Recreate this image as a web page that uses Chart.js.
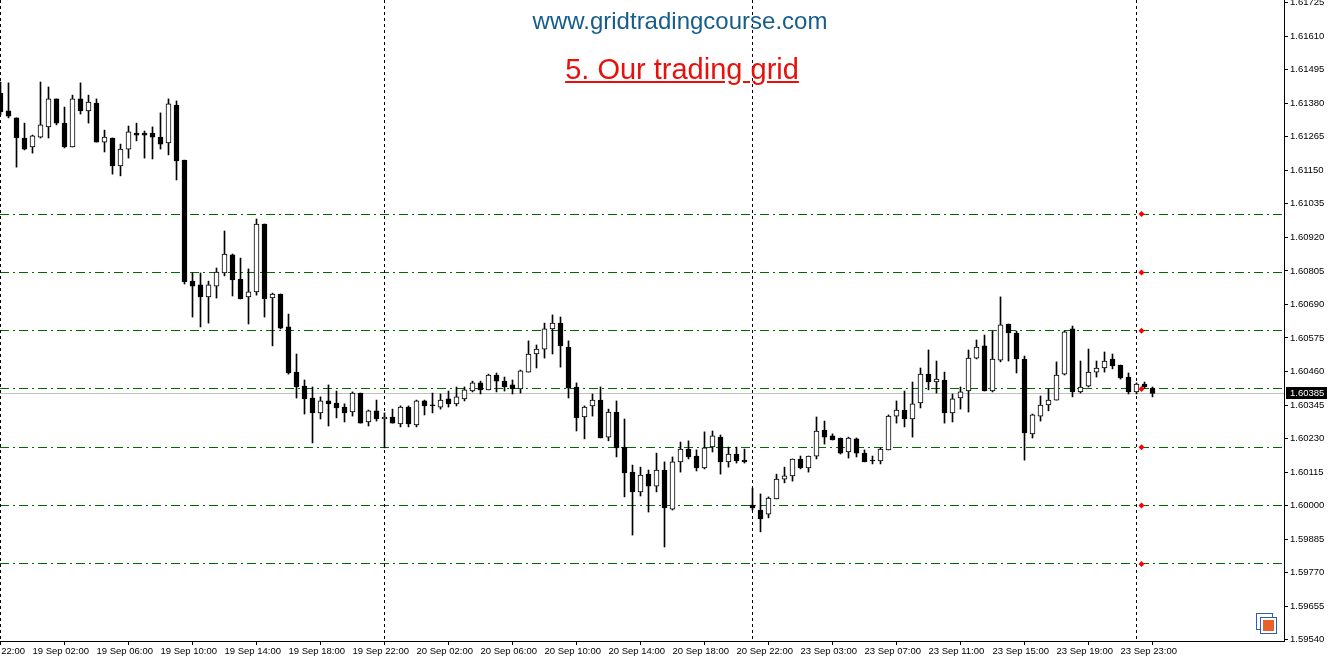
<!DOCTYPE html>
<html>
<head>
<meta charset="utf-8">
<title>GBPUSD M30 - Our trading grid</title>
<script src="https://cdn.jsdelivr.net/npm/chart.js@4.4.0/dist/chart.umd.min.js"></script>
<style>
  html, body { margin: 0; padding: 0; background: #fff; }
  #wrap { position: relative; width: 1328px; height: 660px; overflow: hidden; }
  #chart { position: absolute; left: 0; top: 0; }
  .title { position: absolute; font-family: 'Liberation Sans', Arial, sans-serif; white-space: nowrap; transform: translateX(-50%); line-height: 1; }
  #site { left: 680px; top: 9px; font-size: 24px; color: #155e8c; }
  #heading { left: 682px; top: 55px; font-size: 29px; color: #e8100a; text-decoration: underline; }
</style>
</head>
<body>
<div id="wrap">
  <canvas id="chart" width="1328" height="660"></canvas>
  <div class="title" id="site">www.gridtradingcourse.com</div>
  <div class="title" id="heading">5. Our trading grid</div>
</div>
<script>
// 30 minute candles, 19 Sep 00:00 -> 24 Sep 01:00 (weekend skipped)
const opens = [
  1.61415, 1.61354, 1.61330, 1.61261, 1.61230, 1.61264, 1.61299, 1.61395, 1.61312, 1.61230,
  1.61395, 1.61354, 1.61381, 1.61247, 1.61261, 1.61165, 1.61223, 1.61278, 1.61278, 1.61278,
  1.61264, 1.61244, 1.61374, 1.61185, 1.60770, 1.60757, 1.60716, 1.60753, 1.60798, 1.60860,
  1.60777, 1.60716, 1.60733, 1.60966, 1.60712, 1.60726, 1.60613, 1.60458, 1.60410, 1.60369,
  1.60318, 1.60359, 1.60352, 1.60338, 1.60321, 1.60386, 1.60287, 1.60325, 1.60297, 1.60304,
  1.60280, 1.60338, 1.60277, 1.60359, 1.60345, 1.60338, 1.60366, 1.60349, 1.60366, 1.60393,
  1.60421, 1.60397, 1.60448, 1.60427, 1.60414, 1.60400, 1.60458, 1.60520, 1.60537, 1.60606,
  1.60626, 1.60544, 1.60407, 1.60304, 1.60342, 1.60362, 1.60235, 1.60321, 1.60201, 1.60115,
  1.60047, 1.60108, 1.60067, 1.60122, 1.59988, 1.60150, 1.60194, 1.60170, 1.60129, 1.60201,
  1.60235, 1.60150, 1.60177, 1.60156, 1.60002, 1.59985, 1.59971, 1.60023, 1.60091, 1.60102,
  1.60160, 1.60129, 1.60170, 1.60259, 1.60239, 1.60232, 1.60184, 1.60229, 1.60180, 1.60156,
  1.60153, 1.60191, 1.60307, 1.60328, 1.60297, 1.60352, 1.60451, 1.60424, 1.60431, 1.60318,
  1.60369, 1.60393, 1.60506, 1.60548, 1.60393, 1.60499, 1.60623, 1.60592, 1.60503, 1.60246,
  1.60307, 1.60345, 1.60362, 1.60451, 1.60606, 1.60390, 1.60410, 1.60458, 1.60472, 1.60503,
  1.60482, 1.60441, 1.60390, 1.60417, 1.60403
];
const highs = [
  1.61453, 1.61450, 1.61330, 1.61312, 1.61271, 1.61453, 1.61436, 1.61395, 1.61367, 1.61408,
  1.61450, 1.61408, 1.61395, 1.61288, 1.61261, 1.61240, 1.61302, 1.61312, 1.61285, 1.61299,
  1.61347, 1.61395, 1.61388, 1.61185, 1.60798, 1.60798, 1.60770, 1.60815, 1.60942, 1.60863,
  1.60849, 1.60812, 1.60983, 1.60966, 1.60729, 1.60726, 1.60657, 1.60520, 1.60431, 1.60407,
  1.60373, 1.60414, 1.60393, 1.60349, 1.60390, 1.60386, 1.60328, 1.60362, 1.60318, 1.60331,
  1.60342, 1.60342, 1.60362, 1.60362, 1.60386, 1.60383, 1.60393, 1.60407, 1.60407, 1.60427,
  1.60427, 1.60451, 1.60455, 1.60441, 1.60431, 1.60465, 1.60565, 1.60551, 1.60626, 1.60654,
  1.60647, 1.60565, 1.60421, 1.60342, 1.60383, 1.60407, 1.60331, 1.60359, 1.60297, 1.60139,
  1.60132, 1.60122, 1.60180, 1.60150, 1.60167, 1.60218, 1.60222, 1.60191, 1.60253, 1.60256,
  1.60242, 1.60201, 1.60201, 1.60194, 1.60060, 1.60040, 1.60030, 1.60108, 1.60132, 1.60160,
  1.60170, 1.60170, 1.60304, 1.60290, 1.60246, 1.60232, 1.60235, 1.60232, 1.60191, 1.60170,
  1.60198, 1.60311, 1.60359, 1.60393, 1.60424, 1.60472, 1.60534, 1.60496, 1.60458, 1.60383,
  1.60407, 1.60534, 1.60568, 1.60585, 1.60599, 1.60716, 1.60623, 1.60599, 1.60513, 1.60314,
  1.60376, 1.60400, 1.60493, 1.60599, 1.60616, 1.60496, 1.60537, 1.60496, 1.60527, 1.60520,
  1.60482, 1.60455, 1.60421, 1.60424, 1.60407
];
const lows = [
  1.61340, 1.61330, 1.61161, 1.61220, 1.61209, 1.61261, 1.61261, 1.61306, 1.61227, 1.61230,
  1.61343, 1.61312, 1.61247, 1.61213, 1.61137, 1.61131, 1.61192, 1.61251, 1.61192, 1.61189,
  1.61223, 1.61203, 1.61117, 1.60760, 1.60647, 1.60613, 1.60626, 1.60712, 1.60788, 1.60719,
  1.60709, 1.60623, 1.60722, 1.60647, 1.60548, 1.60606, 1.60451, 1.60369, 1.60314, 1.60215,
  1.60297, 1.60273, 1.60301, 1.60287, 1.60307, 1.60283, 1.60273, 1.60290, 1.60198, 1.60283,
  1.60270, 1.60270, 1.60270, 1.60311, 1.60318, 1.60331, 1.60338, 1.60342, 1.60359, 1.60390,
  1.60383, 1.60397, 1.60390, 1.60393, 1.60383, 1.60386, 1.60458, 1.60472, 1.60506, 1.60520,
  1.60475, 1.60369, 1.60256, 1.60229, 1.60307, 1.60232, 1.60222, 1.60167, 1.60030, 1.59899,
  1.60033, 1.59978, 1.60047, 1.59858, 1.59985, 1.60115, 1.60160, 1.60119, 1.60126, 1.60184,
  1.60108, 1.60132, 1.60146, 1.60146, 1.59985, 1.59910, 1.59958, 1.60023, 1.60078, 1.60084,
  1.60126, 1.60115, 1.60160, 1.60211, 1.60225, 1.60177, 1.60163, 1.60167, 1.60150, 1.60143,
  1.60143, 1.60191, 1.60283, 1.60270, 1.60235, 1.60335, 1.60397, 1.60386, 1.60283, 1.60287,
  1.60331, 1.60321, 1.60503, 1.60393, 1.60390, 1.60493, 1.60496, 1.60455, 1.60156, 1.60232,
  1.60290, 1.60325, 1.60362, 1.60448, 1.60373, 1.60386, 1.60407, 1.60441, 1.60458, 1.60469,
  1.60434, 1.60383, 1.60383, 1.60403, 1.60373
];
const closes = [
  1.61350, 1.61336, 1.61261, 1.61223, 1.61268, 1.61306, 1.61395, 1.61312, 1.61230, 1.61395,
  1.61354, 1.61384, 1.61247, 1.61264, 1.61165, 1.61223, 1.61282, 1.61271, 1.61271, 1.61264,
  1.61240, 1.61378, 1.61182, 1.60767, 1.60753, 1.60716, 1.60757, 1.60801, 1.60863, 1.60774,
  1.60709, 1.60733, 1.60966, 1.60709, 1.60726, 1.60609, 1.60455, 1.60407, 1.60366, 1.60318,
  1.60359, 1.60349, 1.60335, 1.60318, 1.60386, 1.60283, 1.60325, 1.60297, 1.60304, 1.60283,
  1.60338, 1.60280, 1.60359, 1.60342, 1.60342, 1.60362, 1.60349, 1.60373, 1.60397, 1.60421,
  1.60397, 1.60448, 1.60427, 1.60407, 1.60400, 1.60462, 1.60520, 1.60537, 1.60606, 1.60626,
  1.60548, 1.60403, 1.60301, 1.60338, 1.60362, 1.60232, 1.60321, 1.60198, 1.60112, 1.60047,
  1.60105, 1.60067, 1.60122, 1.59992, 1.60150, 1.60194, 1.60167, 1.60129, 1.60198, 1.60239,
  1.60150, 1.60177, 1.60153, 1.60150, 1.59992, 1.59954, 1.60026, 1.60091, 1.60102, 1.60160,
  1.60129, 1.60170, 1.60256, 1.60235, 1.60225, 1.60180, 1.60232, 1.60180, 1.60150, 1.60153,
  1.60194, 1.60307, 1.60328, 1.60297, 1.60349, 1.60451, 1.60424, 1.60434, 1.60318, 1.60366,
  1.60390, 1.60506, 1.60544, 1.60393, 1.60503, 1.60620, 1.60592, 1.60503, 1.60249, 1.60311,
  1.60345, 1.60362, 1.60448, 1.60596, 1.60390, 1.60407, 1.60458, 1.60472, 1.60496, 1.60479,
  1.60438, 1.60390, 1.60417, 1.60407, 1.60385
];

// axis labels
const priceTicks = [1.61725, 1.61610, 1.61495, 1.61380, 1.61265, 1.61150, 1.61035, 1.60920, 1.60805, 1.60690,
  1.60575, 1.60460, 1.60345, 1.60230, 1.60115, 1.60000, 1.59885, 1.59770, 1.59655, 1.59540];
const timeTickBars = [-4, 4, 12, 20, 28, 36, 44, 52, 60, 68, 76, 84, 92, 100, 108, 116, 124, 132, 140];
const timeLabels = ['18 Sep 22:00', '19 Sep 02:00', '19 Sep 06:00', '19 Sep 10:00', '19 Sep 14:00', '19 Sep 18:00',
  '19 Sep 22:00', '20 Sep 02:00', '20 Sep 06:00', '20 Sep 10:00', '20 Sep 14:00', '20 Sep 18:00', '20 Sep 22:00',
  '23 Sep 03:00', '23 Sep 07:00', '23 Sep 11:00', '23 Sep 15:00', '23 Sep 19:00', '23 Sep 23:00'];

// grid levels, day separators (bar index) and current price
const gridLevels = [1.6100, 1.6080, 1.6060, 1.6040, 1.6020, 1.6000, 1.5980];
const daySeparators = [0, 48, 94, 142];
const markerBar = 142.625;
const lastPrice = 1.60385;

const bodies = opens.map((o, i) => ({ x: i, y: [o, closes[i]] }));
const wicks = highs.map((h, i) => ({ x: i, y: [lows[i], h] }));
const bodyFill = opens.map((o, i) => closes[i] >= o ? '#ffffff' : '#000000');
const markers = gridLevels.map(v => ({ x: markerBar, y: v }));

const FONT = { family: "'Liberation Sans', Arial, sans-serif", size: 9.5 };

// no extra room for the outer labels: the chart fills the window like the terminal does
function noPadding(scale) {
  scale.paddingLeft = 0;
  scale.paddingRight = 0;
  scale.paddingTop = 0;
  scale.paddingBottom = 0;
}

// grid lines, price line and period separators (drawn under the candles)
const levelsPlugin = {
  id: 'levels',
  beforeDatasetsDraw(chart) {
    const { ctx, chartArea: a, scales: { x, y } } = chart;
    ctx.save();
    ctx.lineWidth = 1;

    ctx.strokeStyle = '#006c00';
    ctx.setLineDash([9, 4, 2, 4]);
    gridLevels.forEach(v => {
      const py = Math.floor(y.getPixelForValue(v)) + 0.5;
      ctx.beginPath(); ctx.moveTo(a.left, py); ctx.lineTo(a.right, py); ctx.stroke();
    });

    ctx.setLineDash([]);
    ctx.strokeStyle = '#c0c0c0';
    const lp = Math.floor(y.getPixelForValue(lastPrice)) + 0.5;
    ctx.beginPath(); ctx.moveTo(a.left, lp); ctx.lineTo(a.right, lp); ctx.stroke();

    ctx.strokeStyle = '#000000';
    ctx.setLineDash([3, 3]);
    daySeparators.forEach(b => {
      const px = Math.floor(x.getPixelForValue(b)) + 0.5;
      ctx.beginPath(); ctx.moveTo(px, a.top); ctx.lineTo(px, a.bottom); ctx.stroke();
    });
    ctx.restore();
  },
  afterDraw(chart) {
    const { ctx, chartArea: a, scales: { y } } = chart;
    ctx.save();
    // current price tag on the right axis
    const py = Math.floor(y.getPixelForValue(lastPrice));
    ctx.fillStyle = '#000000';
    ctx.fillRect(a.right + 2, py - 6, 41, 12);
    ctx.fillStyle = '#ffffff';
    ctx.font = "9.5px 'Liberation Sans', Arial, sans-serif";
    ctx.textBaseline = 'middle';
    ctx.fillText(lastPrice.toFixed(5), a.right + 6, py + 0.5);

    // small terminal icon, bottom right corner
    ctx.lineWidth = 1;
    ctx.strokeStyle = '#2f5fa8';
    ctx.fillStyle = '#ffffff';
    ctx.fillRect(1256.5, 613.5, 16, 16);
    ctx.strokeRect(1256.5, 613.5, 16, 16);
    ctx.fillRect(1260.5, 617.5, 16, 16);
    ctx.strokeRect(1260.5, 617.5, 16, 16);
    ctx.fillStyle = '#e8602c';
    ctx.fillRect(1263, 620, 11, 11);
    ctx.restore();
  }
};

const ctx = document.getElementById('chart');
new Chart(ctx, {
  type: 'bar',
  data: {
    datasets: [
      {
        label: 'levels',
        type: 'scatter',
        data: markers,
        pointStyle: 'rectRot',
        pointRadius: 3,
        backgroundColor: '#ff0000',
        borderWidth: 0
      },
      {
        label: 'body',
        data: bodies,
        backgroundColor: bodyFill,
        borderColor: '#000000',
        borderWidth: 1,
        borderSkipped: false,
        barThickness: 5,
        minBarLength: 1,
        grouped: false
      },
      {
        label: 'wick',
        data: wicks,
        backgroundColor: '#000000',
        borderWidth: 0,
        barThickness: 1,
        grouped: false
      }
    ]
  },
  options: {
    responsive: false,
    animation: false,
    layout: { padding: 0, autoPadding: false },
    plugins: {
      legend: { display: false },
      tooltip: { enabled: false }
    },
    scales: {
      x: {
        type: 'linear',
        offset: false,
        min: -0.0625,
        max: 160.4375,
        afterBuildTicks: scale => { scale.ticks = timeTickBars.map(v => ({ value: v })); },
        afterFit: scale => { scale.height = 19; noPadding(scale); },
        grid: { drawOnChartArea: false, color: '#000000', tickLength: 4 },
        border: { color: '#000000' },
        ticks: {
          autoSkip: false,
          maxRotation: 0,
          align: 'start',
          padding: 1,
          color: '#000000',
          font: FONT,
          callback: (v, i) => timeLabels[i]
        }
      },
      y: {
        position: 'right',
        min: 1.5953564,
        max: 1.6173427,
        afterBuildTicks: scale => { scale.ticks = priceTicks.map(v => ({ value: v })); },
        afterFit: scale => { scale.width = 44; noPadding(scale); },
        grid: { drawOnChartArea: false, color: '#000000', tickLength: 4 },
        border: { color: '#000000' },
        ticks: {
          padding: 2,
          color: '#000000',
          font: FONT,
          callback: v => v.toFixed(5)
        }
      }
    }
  },
  plugins: [levelsPlugin]
});
</script>
</body>
</html>
